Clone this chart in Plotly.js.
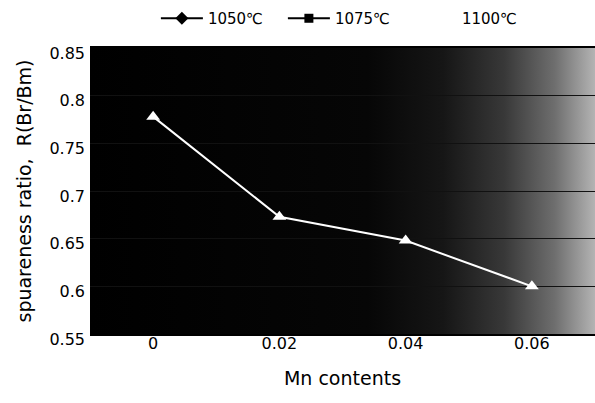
<!DOCTYPE html>
<html>
<head>
<meta charset="utf-8">
<script src="https://cdn.plot.ly/plotly-3.0.1.min.js"></script>
<style>html,body{margin:0;padding:0;background:#fff;}#chart{width:595px;height:403px;}</style>
</head>
<body>
<div id="chart"></div>
<script>
var categories = ["0", "0.02", "0.04", "0.06"];
var series1050 = [null, null, null, null];
var series1075 = [null, null, null, null];
var series1100 = [0.778, 0.673, 0.648, 0.600];
var seriesNames = ["1050℃", "1075℃", "1100℃"];
var yTicks = [0.55, 0.6, 0.65, 0.7, 0.75, 0.8, 0.85];

var svg = '<svg xmlns="http://www.w3.org/2000/svg" width="505" height="286" preserveAspectRatio="none">' +
  '<defs><linearGradient id="g" x1="0" y1="0" x2="1" y2="0">' +
  '<stop offset="0" stop-color="#000"/>' +
  '<stop offset="0.55" stop-color="#060606"/>' +
  '<stop offset="0.7" stop-color="#161616"/>' +
  '<stop offset="0.82" stop-color="#383838"/>' +
  '<stop offset="0.92" stop-color="#6e6e6e"/>' +
  '<stop offset="1" stop-color="#b4b4b4"/>' +
  '</linearGradient></defs>' +
  '<rect width="505" height="286" fill="url(#g)"/></svg>';
var bgSrc = 'data:image/svg+xml;charset=utf-8,' + encodeURIComponent(svg);

var fam = "DejaVu Sans, Liberation Sans, sans-serif";
var tickFont = {family: fam, size: 16, color: "#000"};
var titleFont = {family: fam, size: 19, color: "#000"};
var legendFont = {family: fam, size: 15, color: "#000"};

var traces = [
  {x: categories, y: series1050, name: seriesNames[0], type: "scatter", mode: "lines+markers",
   line: {color: "#000", width: 2}, marker: {symbol: "diamond", size: 10, color: "#000"}},
  {x: categories, y: series1075, name: seriesNames[1], type: "scatter", mode: "lines+markers",
   line: {color: "#000", width: 2}, marker: {symbol: "square", size: 9, color: "#000"}},
  {x: categories, y: series1100, name: seriesNames[2], type: "scatter", mode: "lines+markers",
   line: {color: "#fff", width: 2}, marker: {symbol: "triangle-up", size: 12, color: "#fff"}}
];

var layout = {
  width: 595, height: 403,
  margin: {l: 90, r: 0, t: 48, b: 69},
  paper_bgcolor: "#fff",
  plot_bgcolor: "rgba(0,0,0,0)",
  font: tickFont,
  showlegend: true,
  legend: {orientation: "h", xref: "container", yref: "container", x: 0.262, y: 0.995,
           xanchor: "left", yanchor: "top", font: legendFont, bgcolor: "rgba(0,0,0,0)",
           itemwidth: 42, entrywidth: 70, traceorder: "normal"},
  images: [{source: bgSrc, xref: "paper", yref: "paper", x: 0, y: 1, sizex: 1, sizey: 1,
            xanchor: "left", yanchor: "top", sizing: "stretch", layer: "below"}],
  xaxis: {type: "category", range: [-0.5, 3.5], showgrid: false, zeroline: false,
          showline: true, linecolor: "#000", linewidth: 2, mirror: true, ticks: "", ticklen: 0,
          ticklabelstandoff: -6,
          tickfont: tickFont, title: {text: "Mn contents", font: titleFont, standoff: 19}},
  yaxis: {range: [0.55, 0.85], tickvals: yTicks, ticktext: yTicks.map(String), showgrid: true,
          gridcolor: "#111", gridwidth: 1, zeroline: false, showline: false, ticks: "", ticklen: 0,
          ticklabelstandoff: 4, ticklabelshift: 5,
          tickfont: tickFont, title: {text: "spuareness ratio,  R(Br/Bm)", font: titleFont, standoff: 12}}
};

Plotly.newPlot("chart", traces, layout, {displayModeBar: false, staticPlot: true});
</script>
</body>
</html>
